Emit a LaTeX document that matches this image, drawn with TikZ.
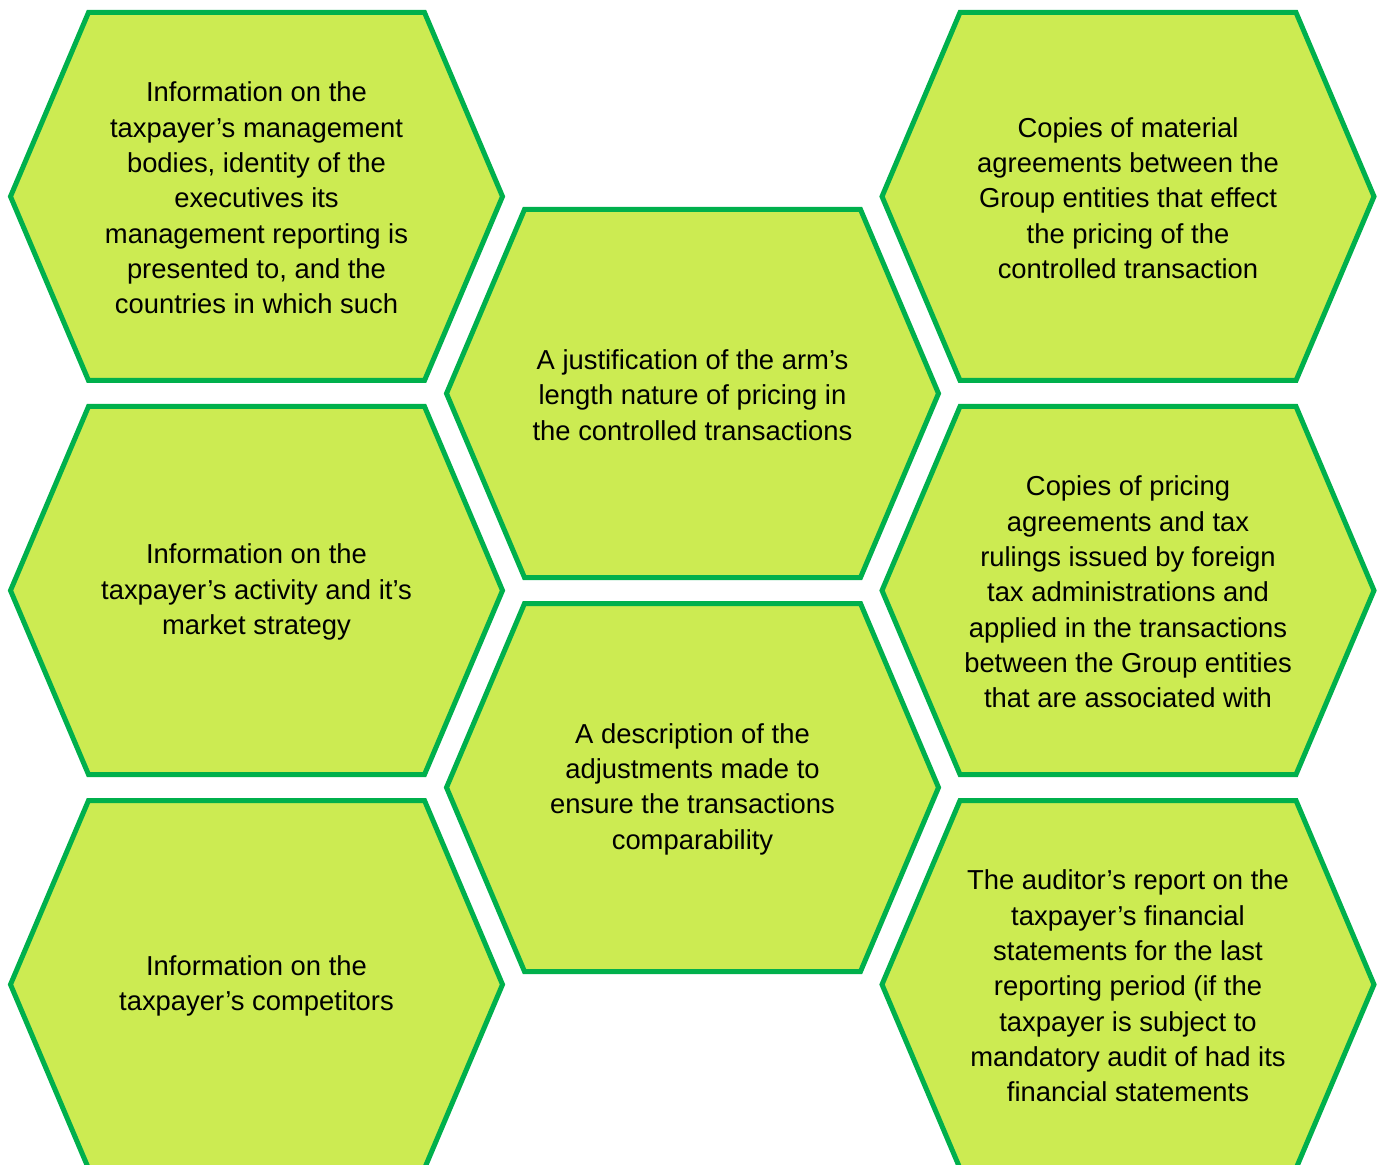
\documentclass[tikz,border=0pt]{standalone}
\usepackage{fontspec}
\setmainfont{Liberation Sans}
\usepackage{tikz}
\usetikzlibrary{positioning}
\usetikzlibrary{backgrounds}
\definecolor{cellfill}{HTML}{CCEB52}
\definecolor{celledge}{HTML}{00B04C}

\begin{document}
\begin{tikzpicture}[x = 0.5pt, y = 0.5pt, node distance = 197pt, on grid, cell/.style = {align = center, inner sep = 0pt, font = \fontsize{13.7}{17.65}\selectfont}, hexcell/.style = {fill = cellfill, draw = celledge, line width = 2.5pt, miter limit = 10}]
	\useasboundingbox (0,0) rectangle (1379,-1165);
	\node[cell] (L1) at (256.5,-198) {Information on the\\taxpayer’s management\\bodies, identity of the\\executives its\\management reporting is\\presented to, and the\\countries in which such};
	\node[cell] (L2) [below = of L1] {Information on the\\taxpayer’s activity and it’s\\market strategy};
	\node[cell] (L3) [below = of L2] {Information on the\\taxpayer’s competitors};
	\node[cell] (M1) [below right = 98.5pt and 218pt of L1] {A justification of the arm’s\\length nature of pricing in\\the controlled transactions};
	\node[cell] (M2) [below = of M1] {A description of the\\adjustments made to\\ensure the transactions\\comparability};
	\node[cell] (R1) [right = 435.75pt of L1] {Copies of material\\agreements between the\\Group entities that effect\\the pricing of the\\controlled transaction};
	\node[cell] (R2) [below = of R1] {Copies of pricing\\agreements and tax\\rulings issued by foreign\\tax administrations and\\applied in the transactions\\between the Group entities\\that are associated with};
	\node[cell] (R3) [below = of R2] {The auditor’s report on the\\taxpayer’s financial\\statements for the last\\reporting period (if the\\taxpayer is subject to\\mandatory audit of had its\\financial statements};
	\begin{scope}[on background layer]
		\foreach \n in {L1, L2, L3, M1, M2, R1, R2, R3}
			\filldraw[hexcell, shift = {(\n.center)}, yshift = 0.75pt] (-246,0) -- (-168,184) -- (168,184) -- (246,0) -- (168,-184) -- (-168,-184) -- cycle;
	\end{scope}
\end{tikzpicture}
\end{document}
